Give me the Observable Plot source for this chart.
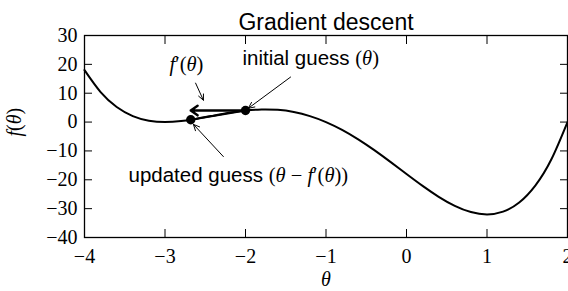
<!DOCTYPE html>
<html><head><meta charset="utf-8">
<script src="https://cdn.jsdelivr.net/npm/d3@7"></script>
<script src="https://cdn.jsdelivr.net/npm/@observablehq/plot@0.6"></script>
<style>
body{margin:0;background:#fff}
svg text{font-family:"Liberation Serif","Times New Roman","DejaVu Serif",serif}
svg text.sans, svg g.sans text{font-family:"Liberation Sans",Arial,sans-serif}
svg tspan.m{font-family:"Liberation Serif","Times New Roman","DejaVu Serif",serif}
</style>
</head><body><div id="chart"></div>
<script>
// curve f(θ)
const thetas = [-4,-3.8,-3.6,-3.4,-3.2,-3,-2.8,-2.6,-2.4,-2.2,-2,-1.8,-1.6,-1.4,-1.2,-1,-0.8,-0.6,-0.4,-0.2,0,0.2,0.4,0.6,0.8,1,1.2,1.4,1.6,1.8,2];
const fvals = [18,10.39,5.24,2.07,0.46,0,0.35,1.18,2.22,3.23,4,4.38,4.23,3.48,2.07,0,-2.71,-5.99,-9.73,-13.8,-18,-22.12,-25.89,-29.03,-31.19,-32,-31.05,-27.88,-22.01,-12.9,0];
const xTicks = [-4,-3,-2,-1,0,1,2];
const yTicks = [-40,-30,-20,-10,0,10,20,30];
// guesses: initial and updated
const guessTheta = [-2, -2.68];
const guessF = [4, 0.81];
// gradient step arrow
const stepFrom = [-2, 4];
const stepTo = [-2.68, 4];
// annotation pointer arrows
const ptrX1 = [-1.44, -2.62, -2.275];
const ptrY1 = [15.6, 13.5, -11.96];
const ptrX2 = [-1.965, -2.523, -2.647];
const ptrY2 = [4.78, 7.57, -0.8];
// annotation labels
const sansLabels = ["initial guess (θ)", "updated guess (θ − f′(θ))"];
const sansTheta = [-1.19, -2.089];
const sansF = [22.2, -18.6];
const mathLabels = ["f′(θ)"];
const mathTheta = [-2.734];
const mathF = [19.8];

const plot = Plot.plot({
  width: 568, height: 291,
  marginLeft: 84, marginRight: 1, marginTop: 35, marginBottom: 54,
  style: {fontSize: "19px", color: "black", background: "white"},
  x: {domain: [-4, 2]},
  y: {domain: [-40, 30]},
  marks: [
    Plot.line(thetas, {x: thetas, y: fvals, curve: "natural", stroke: "black", strokeWidth: 2}),
    Plot.link([0], {x1: guessTheta[1], y1: guessF[1], x2: guessTheta[0], y2: guessF[0], stroke: "black", strokeWidth: 2.2}),
    Plot.arrow([0], {x1: stepFrom[0], y1: stepFrom[1], x2: stepTo[0], y2: stepTo[1], stroke: "black", strokeWidth: 2.5, headLength: 5, headAngle: 70}),
    Plot.dot(guessTheta, {x: guessTheta, y: guessF, r: 4.7, fill: "black"}),
    Plot.arrow(ptrX1, {x1: ptrX1, y1: ptrY1, x2: ptrX2, y2: ptrY2, stroke: "black", strokeWidth: 1, headLength: 10, headAngle: 50}),
    Plot.text(sansLabels, {x: sansTheta, y: sansF, text: sansLabels, fontSize: 20.5, fill: "black", className: "sans"}),
    Plot.text(mathLabels, {x: mathTheta, y: mathF, text: mathLabels, fontSize: 20.5, fill: "black"}),
    Plot.text(["Gradient descent"], {frameAnchor: "top", dy: -22, fontSize: 23, fill: "black", className: "sans"}),
    Plot.text(["θ"], {frameAnchor: "bottom", dy: 48, fontSize: 20, fill: "black"}),
    Plot.text(["f(θ)"], {frameAnchor: "left", dx: -70, rotate: -90, fontSize: 20, fill: "black"}),
    Plot.frame({stroke: "black", strokeWidth: 1.3}),
    Plot.axisX(xTicks, {anchor: "bottom", tickSize: -8, tickPadding: 19, label: null, fontSize: 20}),
    Plot.axisX(xTicks, {anchor: "top", tickSize: -8, fill: "none", label: null}),
    Plot.axisY(yTicks, {anchor: "left", tickSize: -8, tickPadding: 15, label: null, fontSize: 20}),
    Plot.axisY(yTicks, {anchor: "right", tickSize: -8, fill: "none", label: null})
  ]
});
const rich = {
  "initial guess (θ)": 'initial guess <tspan class="m">(<tspan font-style="italic">θ</tspan>)</tspan>',
  "f′(θ)": '<tspan font-style="italic">f</tspan>′(<tspan font-style="italic">θ</tspan>)',
  "updated guess (θ − f′(θ))": 'updated guess <tspan class="m">(<tspan font-style="italic">θ</tspan> − <tspan font-style="italic">f</tspan>′(<tspan font-style="italic">θ</tspan>))</tspan>',
  "θ": '<tspan font-style="italic">θ</tspan>',
  "f(θ)": '<tspan font-style="italic">f</tspan>(<tspan font-style="italic">θ</tspan>)'
};
d3.select(plot).selectAll("text").each(function() {
  const t = this.textContent;
  if (t === "Gradient descent" || t.startsWith("initial") || t.startsWith("updated")) this.classList.add("sans");
  if (rich[t]) this.innerHTML = rich[t];
});
document.getElementById("chart").appendChild(plot);
</script>
</body></html>
